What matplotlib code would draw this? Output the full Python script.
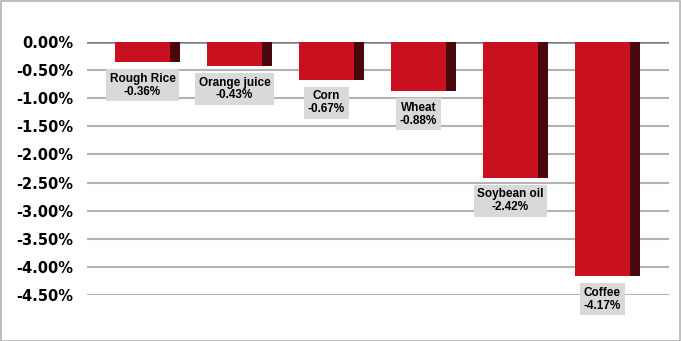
import numpy as np
import matplotlib.pyplot as plt
from matplotlib.patches import Rectangle

# Data
commodities = ['Rough Rice', 'Orange juice', 'Corn', 'Wheat', 'Soybean oil', 'Coffee']
changes = [-0.36, -0.43, -0.67, -0.88, -2.42, -4.17]
yticks = [0.0, -0.5, -1.0, -1.5, -2.0, -2.5, -3.0, -3.5, -4.0, -4.5]

front_color = '#c8101e'
side_color = '#4a080d'

fig = plt.figure(figsize=(6.81, 3.41), dpi=100)
ax = fig.add_axes([87 / 681, 1 - 295 / 341, (669 - 87) / 681, (295 - 42) / 341])

x = np.arange(len(commodities))
w = 0.6
side = 0.11

# front faces + dark side faces (fake 3D)
ax.bar(x, changes, width=w, color=front_color, zorder=3)
ax.bar(x + w / 2 + side / 2, changes, width=side, color=side_color, zorder=3)

for xi, v, name in zip(x, changes, commodities):
    ax.annotate(f'{name}\n{v:.2f}%', xy=(xi, v), xytext=(0, -7.5),
                textcoords='offset points', ha='center', va='top',
                fontsize=8.5, fontweight='bold', family='Liberation Sans',
                linespacing=1.1,
                bbox=dict(boxstyle='square,pad=0.3', fc='#d9d9d9', ec='none'),
                zorder=4, annotation_clip=False)

ax.set_xlim(-0.603, 5.723)
ax.set_ylim(-4.5, 0)
ax.set_yticks(yticks)
ax.set_yticklabels([f'{t:.2f}%' for t in yticks])
ax.tick_params(axis='y', length=0, pad=10, labelsize=10.5)
for lab in ax.get_yticklabels():
    lab.set_fontweight('bold')
ax.set_xticks([])

ax.grid(axis='y', color='#b3b3b3', linewidth=1.5, zorder=0)
ax.axhline(0, color='#808080', linewidth=1.8, zorder=2)
for s in ax.spines.values():
    s.set_visible(False)

# outer border
fig.patches.append(Rectangle((0.5 / 681, 0.5 / 341), 1 - 1.5 / 681, 1 - 1.5 / 341,
                             transform=fig.transFigure, fill=False,
                             ec='#b3b3b3', lw=1.2))

plt.savefig('out.png', dpi=100)
